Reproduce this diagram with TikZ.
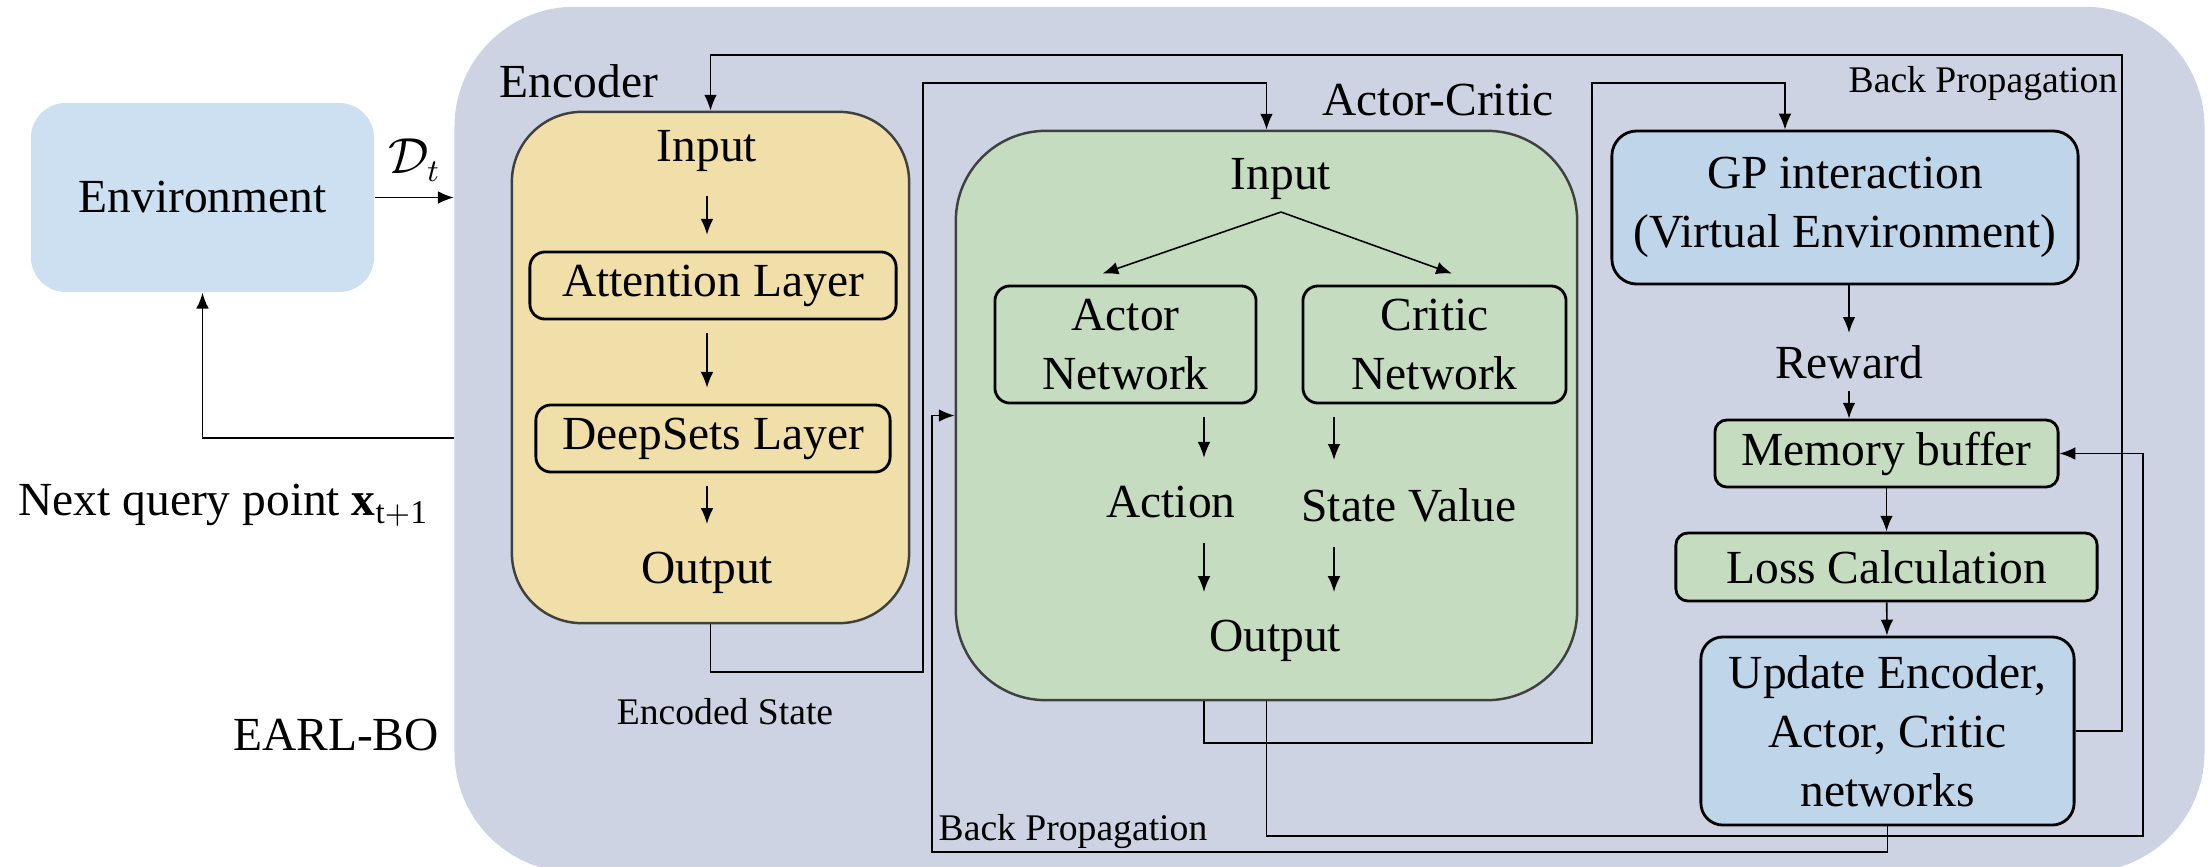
\documentclass[tikz,border=0pt]{standalone}
\usepackage{fontspec}
\setmainfont{Liberation Serif}
\usetikzlibrary{arrows.meta,calc}

\definecolor{panelgray}{RGB}{205,211,226}
\definecolor{envblue}{RGB}{204,224,241}
\definecolor{encyellow}{RGB}{241,223,169}
\definecolor{acgreen}{RGB}{197,220,192}
\definecolor{gpblue}{RGB}{191,213,234}

\begin{document}
\begin{tikzpicture}[
        x=0.01cm, y=-0.01cm,
        font=\fontsize{13.5}{16.8}\selectfont,
        every node/.style={align=center},
        arr/.style={-{Latex[length=4.5pt,width=3.6pt]}, line width=0.45pt},
        gap/.style={shorten <=3.5pt, shorten >=4.5pt},
        small/.style={font=\fontsize{10.7}{13}\selectfont},
        bigbox/.style={draw=black!75, line width=0.7pt},
        layer/.style={draw, line width=0.8pt, rounded corners=0.15cm, inner sep=0pt}]
      \useasboundingbox (0,0) rectangle (2211,866);

      % outer EARL-BO panel
      \node[fill=panelgray, rounded corners=1.2cm, minimum width=17.49cm, minimum height=8.65cm] (earl) at (1329.5,439.5) {};

      \node[fill=envblue, rounded corners=0.35cm, minimum width=3.43cm, minimum height=1.89cm] (env) at (202.5,197.5) {Environment};
      \draw[arr] (env.east) -- (env.east -| earl.west) node[midway, above=1pt] (dt) {$\mathcal{D}_t$};
      \draw[arr] (earl.west |- 0,438) -| (env.south);
      \node[anchor=west] (nextq) at (6,505) {Next query point $\mathbf{x}_{\mathrm{t+1}}$};
      \node (earlname) at (336,735) {EARL-BO};

      % encoder
      \node[bigbox, fill=encyellow, rounded corners=0.7cm, minimum width=3.97cm, minimum height=5.11cm] (enc) at (710.5,367.5) {};
      \node (enclabel) at (579,81) {Encoder};
      \node (encin) at (707,151) {Input};
      \node[layer, fill=encyellow, minimum width=3.66cm, minimum height=0.67cm] (att) at (713,285.5) {Attention Layer};
      \node[layer, fill=encyellow, minimum width=3.54cm, minimum height=0.67cm] (deep) at (713,438.5) {DeepSets Layer};
      \node (encout) at (707,573) {Output};
      \draw[arr, gap] (encin) -- (encin |- att.north);
      \draw[arr, gap] (encin |- att.south) -- (encin |- deep.north);
      \draw[arr, gap] (encin |- deep.south) -- (encout);

      % actor-critic
      \node[bigbox, fill=acgreen, rounded corners=0.9cm, minimum width=6.21cm, minimum height=5.69cm] (ac) at (1266.5,415.5) {};
      \node (aclabel) at (1438,100) {Actor-Critic};
      \node (acin) at (1281,179) {Input};
      \node[layer, fill=acgreen, minimum width=2.61cm, minimum height=1.17cm] (actor) at (1125.5,344.5) {Actor\\Network};
      \node[layer, fill=acgreen, minimum width=2.63cm, minimum height=1.17cm] (critic) at (1434.5,344.5) {Critic\\Network};
      \node (act) at (1171,502) {Action};
      \node (sv) at (1409,505) {State Value};
      \node (acout) at (1275,641) {Output};
      \coordinate (colA) at (1204,0);
      \coordinate (colC) at (1334,0);
      \draw[arr] (acin.south) -- ($(actor.north)+(-23,-11)$);
      \draw[arr] (acin.south) -- ($(critic.north)+(17.5,-11)$);
      \draw[arr, gap] (actor.south -| colA) -- (act.north -| colA);
      \draw[arr, gap] (critic.south -| colC) -- (sv.north -| colC);
      \draw[arr, gap] (act.south -| colA) -- (acout.north -| colA);
      \draw[arr, gap] (sv.south -| colC) -- (acout.north -| colC);

      % training loop
      \node[layer, fill=gpblue, rounded corners=0.25cm, minimum width=4.66cm, minimum height=1.53cm] (gp) at (1845,207.5) {GP interaction\\(Virtual Environment)};
      \node (rew) at (1849,362) {Reward};
      \node[layer, fill=acgreen, rounded corners=0.12cm, minimum width=3.43cm, minimum height=0.67cm] (mem) at (1886.5,453.5) {Memory buffer};
      \node[layer, fill=acgreen, rounded corners=0.12cm, minimum width=4.21cm, minimum height=0.68cm] (loss) at (1886.5,567) {Loss Calculation};
      \node[layer, fill=gpblue, rounded corners=0.22cm, minimum width=3.73cm, minimum height=1.88cm] (upd) at (1887.5,731) {Update Encoder,\\Actor, Critic\\networks};
      \draw[arr] (gp.south -| rew.north) -- (rew.north);
      \draw[arr] (rew.south) -- (rew.south |- mem.north);
      \draw[arr] (mem) -- (loss);
      \draw[arr] (loss) -- (upd);

      % links between the blocks
      \draw[arr] (enc.south) |- (923,672) -- (923,83) -| (ac.north);
      \node[small] (encstate) at (725,712) {Encoded State};
      \draw[arr] (ac.south -| colA) |- (1592,743) |- (1785,83) -- (gp.north -| 1785,0);
      \draw[arr] (ac.south) |- (2143,836) |- (mem.east);
      \draw[arr] (upd.east) -| (2122,55) -| (enc.north);
      \node[small] (bptop) at (1983,84) {Back Propagation};
      \draw[arr] (upd.south) |- (932,852) |- (ac.west);
      \node[small] (bpbot) at (1073,831) {Back Propagation};
\end{tikzpicture}
\end{document}
